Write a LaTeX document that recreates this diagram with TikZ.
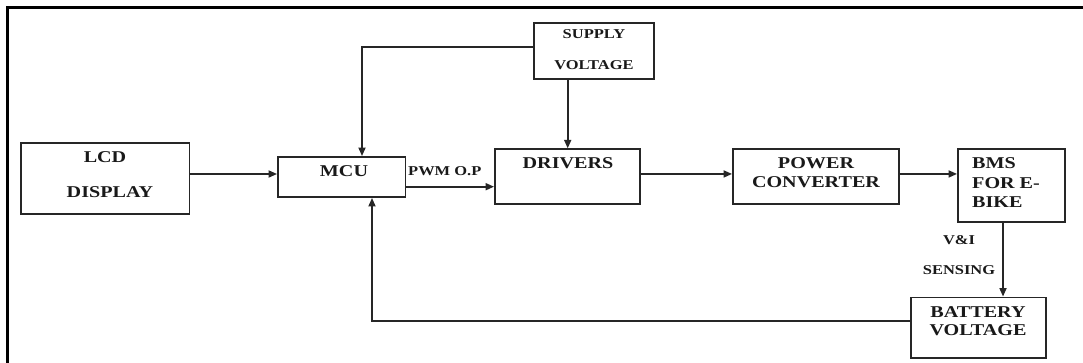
\documentclass[tikz,border=0pt]{standalone}
\usepackage{fontspec}
\setmainfont[FakeStretch=1.22]{Liberation Serif}
\usetikzlibrary{arrows.meta}
\tikzset{
  blk/.style={draw=black!85, line width=1.9pt, rectangle, inner sep=0pt},
  lbl/.style={font=\fontsize{16.5}{18}\selectfont\bfseries, text=black!90, inner sep=0pt},
  slbl/.style={font=\fontsize{13.5}{15}\selectfont\bfseries, text=black!90, inner sep=0pt},
  arr/.style={draw=black!85, line width=1.7pt, -{Triangle[length=8.5pt,width=7pt]}}
}
\begin{document}
\begin{tikzpicture}[x=1pt,y=-1pt]
\useasboundingbox (0,0) rectangle (1083,362);
\fill[white] (0,0) rectangle (1083,362);
% frame
\draw[black, line width=2.4pt] (1090,7.5) -- (7.5,7.5) -- (7.5,370);

% boxes
\node[blk, minimum width=168.5pt, minimum height=71pt] (lcd) at (105.25,178.5) {};
\node[blk, minimum width=127.5pt, minimum height=40pt] (mcu) at (341.75,177) {};
\node[blk, minimum width=120pt, minimum height=56.6pt] (supply) at (593.7,51) {};
\node[blk, minimum width=145.4pt, minimum height=54.7pt] (drivers) at (567.7,176.65) {};
\node[blk, minimum width=166.4pt, minimum height=54.7pt] (power) at (816.2,176.65) {};
\node[blk, minimum width=106.6pt, minimum height=72.4pt] (bms) at (1011.3,185.5) {};
\node[blk, minimum width=134.7pt, minimum height=60.5pt] (battery) at (978.35,327.75) {};

% texts
\node[lbl] (lcdt1) at (105,157) {LCD};
\node[lbl] (lcdt2) at (110,192) {DISPLAY};
\node[lbl] (mcut) at (344,171) {MCU};
\node[slbl] (supt1) at (594,34.5) {SUPPLY};
\node[slbl] (supt2) at (594,65) {VOLTAGE};
\node[lbl] (drvt) at (568,163.5) {DRIVERS};
\node[lbl] (powt1) at (816,163.5) {POWER};
\node[lbl] (powt2) at (816,182) {CONVERTER};
\node[lbl, anchor=west] (bmst1) at (972,163.5) {BMS};
\node[lbl, anchor=west] (bmst2) at (972,182.7) {FOR E-};
\node[lbl, anchor=west] (bmst3) at (972,201.7) {BIKE};
\node[lbl] (batt1) at (978,312) {BATTERY};
\node[lbl] (batt2) at (978,330) {VOLTAGE};
\node[slbl, anchor=west] (pwm) at (408,171) {PWM O.P};
\node[slbl] (vi) at (959,240) {V\&I};
\node[slbl] (sens) at (959,270) {SENSING};

% helper coordinates
\coordinate (supx) at (362,47.3);
\coordinate (fbx) at (372,321);
\coordinate (bmsx) at (1003,0);

% connectors
\draw[arr] ([yshift=4.5pt]lcd.east) -- ([yshift=4.5pt]lcd.east -| mcu.west);
\draw[arr] ([yshift=-9.7pt]mcu.east) -- ([yshift=-9.7pt]mcu.east -| drivers.west);
\draw[arr] (supply.west |- supx) -- (supx) -- (supx |- mcu.north);
\draw[arr] (drivers.north |- supply.south) -- (drivers.north);
\draw[arr] ([yshift=2.7pt]drivers.east) -- ([yshift=2.7pt]drivers.east -| power.west);
\draw[arr] ([yshift=2.7pt]power.east) -- ([yshift=2.7pt]power.east -| bms.west);
\draw[arr] (bmsx |- bms.south) -- (bmsx |- battery.north);
\draw[arr] (battery.west |- fbx) -- (fbx) -- (fbx |- mcu.south);
\end{tikzpicture}
\end{document}
